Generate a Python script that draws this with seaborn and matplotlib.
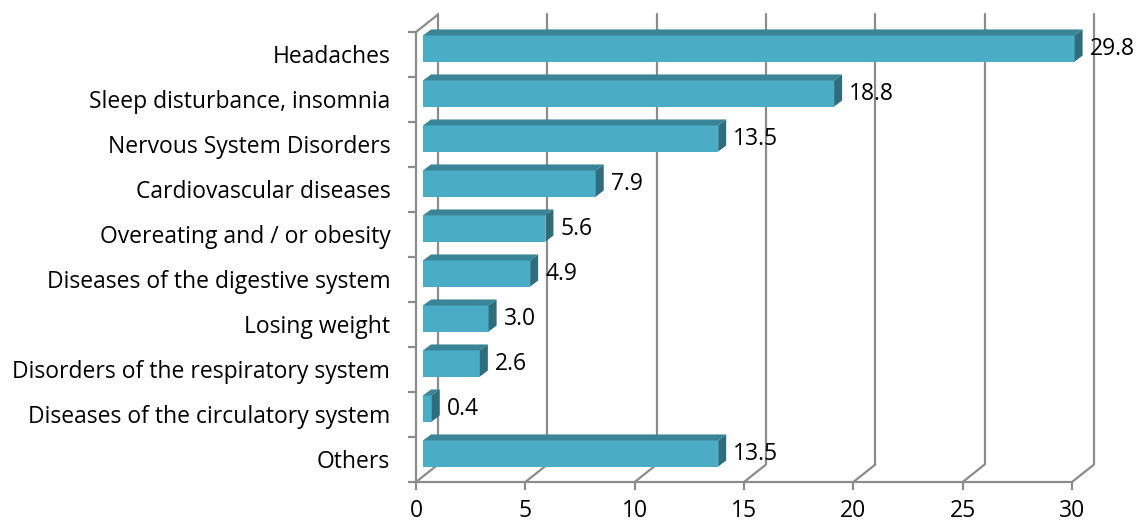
import numpy as np
import pandas as pd
import seaborn as sns
import matplotlib.pyplot as plt
from matplotlib.patches import Polygon

categories = ["Headaches", "Sleep disturbance, insomnia", "Nervous System Disorders",
              "Cardiovascular diseases", "Overeating and / or obesity",
              "Diseases of the digestive system", "Losing weight",
              "Disorders of the respiratory system", "Diseases of the circulatory system",
              "Others"]
values = [29.8, 18.8, 13.5, 7.9, 5.6, 4.9, 3.0, 2.6, 0.4, 13.5]
xticks = [0, 5, 10, 15, 20, 25, 30]

df = pd.DataFrame({"cat": categories, "val": values})

sns.set_style("white")
plt.rcParams["font.family"] = ["Open Sans", "DejaVu Sans"]
FS = 16.5

W, H = 1138, 524
fig = plt.figure(figsize=(W / 100, H / 100), dpi=100)
L, R, T, B = 416, 1072, 32, 482
ax = fig.add_axes([L / W, 1 - B / H, (R - L) / W, (B - T) / H])

front = "#4BACC6"
top_c = "#3A8497"
side_c = "#2F6C7C"
grid_c = "#8C8C8C"

sns.barplot(data=df, x="val", y="cat", orient="h", color=front, saturation=1,
            width=0.58, linewidth=0, ax=ax, zorder=3)

n = len(categories)
ax.set_xlim(0, 30)
ax.set_ylim(n - 0.5, -0.5)

# px -> data units
ux = 30 / (R - L)
uy = n / (B - T)

# back wall offset and bar offsets (pixels)
bx, by = 22, 17.5
fx, fy = 7, 6
dx, dy = 8, 6

# back wall gridlines and floor slants
for t in xticks:
    ax.plot([t + bx * ux, t + bx * ux], [-0.5 - by * uy, n - 0.5 - by * uy],
            color=grid_c, lw=1.6, clip_on=False, zorder=1)
    ax.plot([t, t + bx * ux], [n - 0.5, n - 0.5 - by * uy],
            color=grid_c, lw=1.6, clip_on=False, zorder=1)
ax.plot([0, bx * ux], [-0.5, -0.5 - by * uy], color=grid_c, lw=1.6,
        clip_on=False, zorder=1)

# turn flat bars into 3D boxes
for p in ax.patches:
    x0, y0 = p.get_x(), p.get_y()
    w, h = p.get_width(), p.get_height()
    x0 += fx * ux
    y0 -= fy * uy
    p.set_x(x0)
    p.set_y(y0)
    p.set_clip_on(False)
    x1 = x0 + w
    top = Polygon([[x0, y0], [x1, y0], [x1 + dx * ux, y0 - dy * uy],
                   [x0 + dx * ux, y0 - dy * uy]], closed=True,
                  facecolor=top_c, edgecolor="none", zorder=3, clip_on=False)
    side = Polygon([[x1, y0], [x1 + dx * ux, y0 - dy * uy],
                    [x1 + dx * ux, y0 + h - dy * uy], [x1, y0 + h]], closed=True,
                   facecolor=side_c, edgecolor="none", zorder=3, clip_on=False)
    ax.add_patch(top)
    ax.add_patch(side)

for i, v in enumerate(values):
    ax.annotate(f"{v:.1f}", xy=(v, i), xytext=(22, 5), textcoords="offset pixels",
                ha="left", va="center", fontsize=FS, color="black",
                annotation_clip=False)

for s in ["top", "right"]:
    ax.spines[s].set_visible(False)
for s in ["left", "bottom"]:
    ax.spines[s].set_color(grid_c)
    ax.spines[s].set_linewidth(1.6)

ax.set_xticks(xticks)
ax.set_xticklabels([str(t) for t in xticks])
ax.set_yticks(np.arange(n))
ax.set_yticks(np.arange(n + 1) - 0.5, minor=True)
ax.tick_params(axis="y", which="major", length=0, pad=18.5, labelsize=FS,
               labelcolor="black")
ax.tick_params(axis="y", which="minor", length=6, width=1.6, color=grid_c, left=True)
ax.tick_params(axis="x", length=6, width=1.6, color=grid_c, pad=6, labelsize=FS,
               bottom=True, labelcolor="black")
ax.set_xlabel("")
ax.set_ylabel("")

fig.savefig("out.png", dpi=100)
